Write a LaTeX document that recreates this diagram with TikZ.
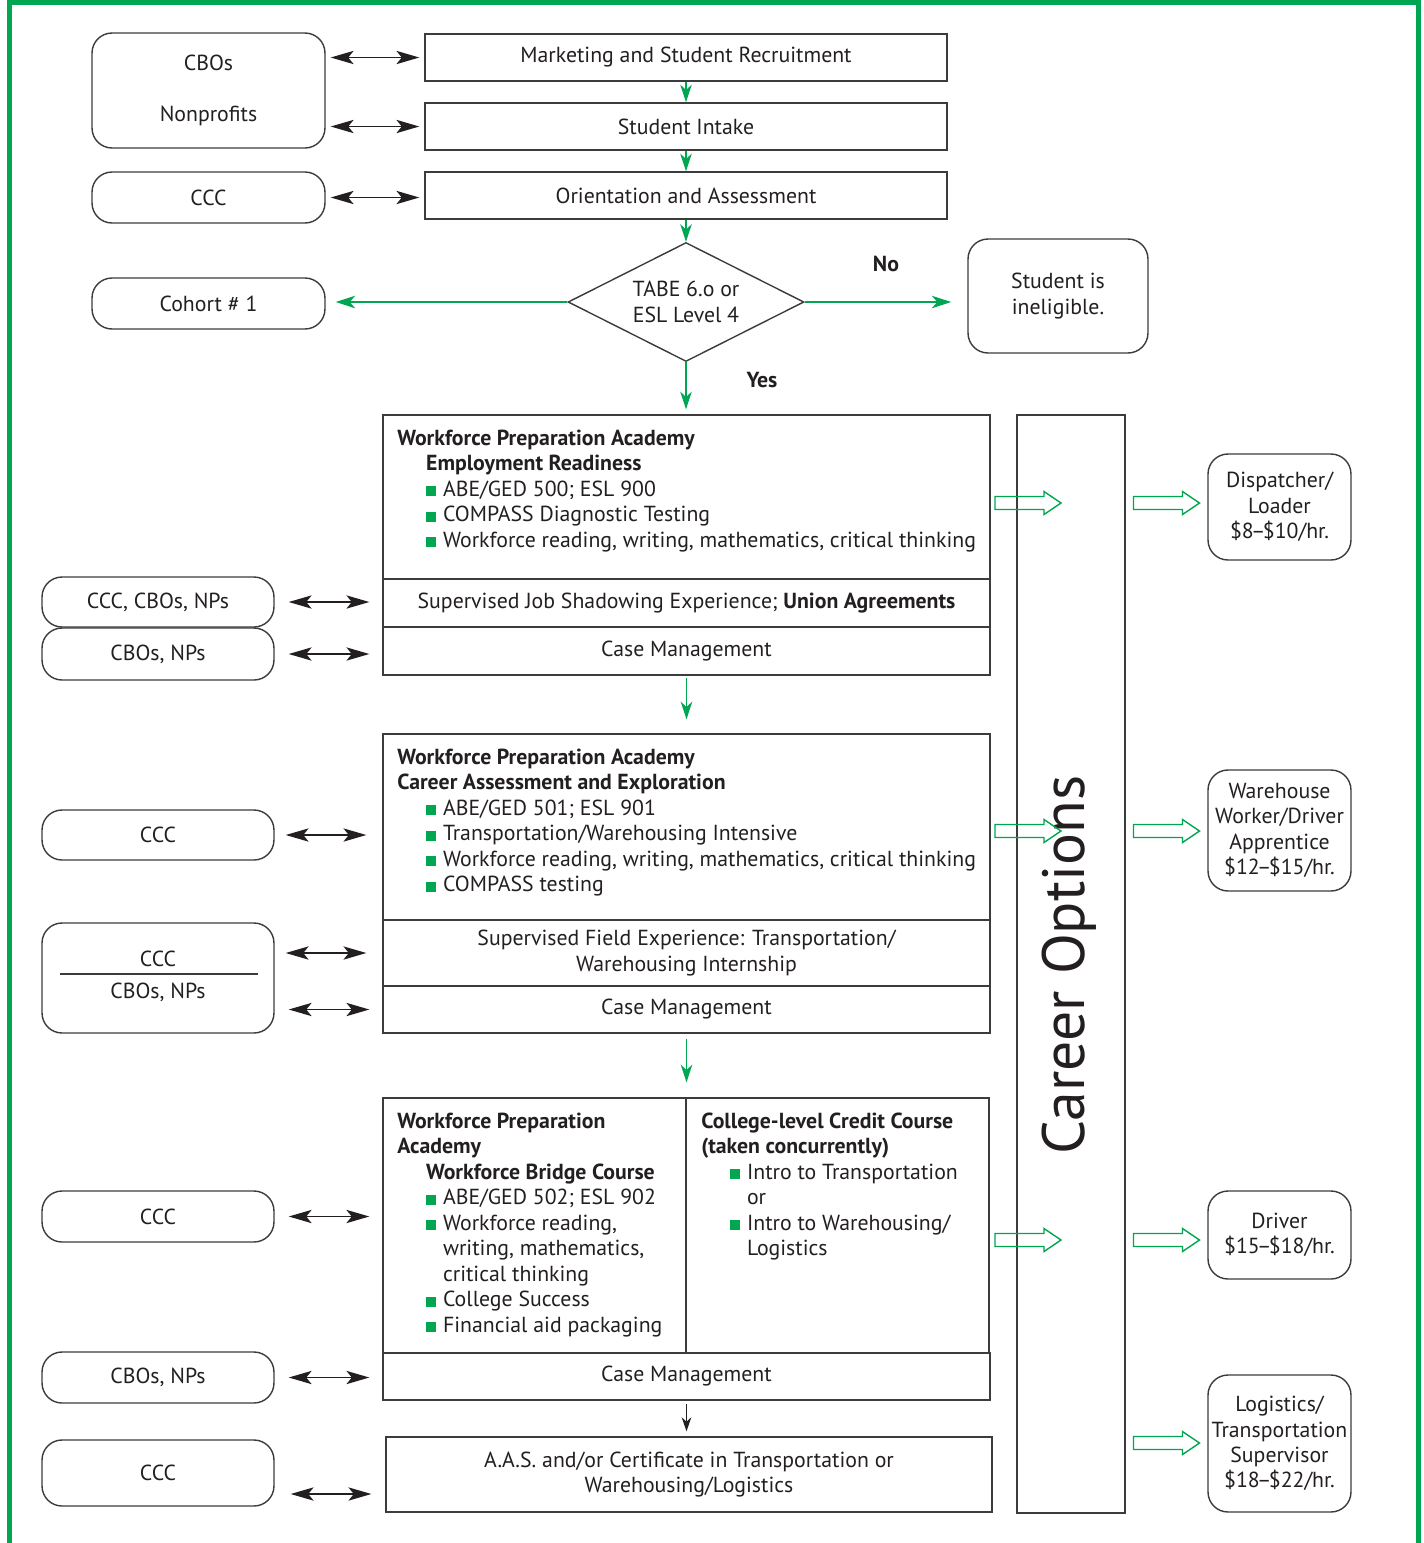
\documentclass[tikz,border=0pt]{standalone}
\usepackage{fontspec}
\setmainfont{PT Sans}
\usetikzlibrary{arrows.meta, shapes.geometric}
\definecolor{cogreen}{RGB}{0,166,81}
\definecolor{coline}{RGB}{60,60,60}
\definecolor{cotext}{RGB}{35,31,32}
\newcommand{\subind}{\hspace*{16.4pt}}
\newcommand{\hangind}{\hspace*{26pt}}
\newcommand{\sqbul}{\hspace*{16.4pt}\makebox[9.6pt][l]{\textcolor{cogreen}{\rule{5.6pt}{5.6pt}}}}
\newcommand{\nd}{\kern-1.5pt--\kern-1.5pt}
\tikzset{>=Stealth,
  every node/.append style={font=\fontsize{12.4}{14.5}\selectfont, text=cotext},
  sqbox/.style={draw=coline, line width=0.8pt, inner sep=0pt, align=center},
  rbox/.style={sqbox, rounded corners=0.4cm},
  lst/.style={anchor=north west, align=left, inner sep=0pt},
  dbl/.style={{Stealth[length=13pt,width=7.5pt,inset=3pt]}-{Stealth[length=13pt,width=7.5pt,inset=3pt]}, line width=1.1pt, draw=cotext},
  gline/.style={-{Stealth[length=11pt,width=7pt,inset=3pt]}, draw=cogreen, line width=1.6pt},
  gthin/.style={-{Stealth[length=10pt,width=6.5pt,inset=3pt]}, draw=cogreen, line width=1.1pt},
  pics/hollowarr/.style={code={
    \draw[cogreen, line width=0.8pt] (-33,-6.5) -- (16,-6.5) -- (16,-11.5) -- (33,0)
      -- (16,11.5) -- (16,6.5) -- (-33,6.5) -- cycle;}}
}

\begin{document}
\begin{tikzpicture}[x=0.02cm, y=-0.02cm]
\useasboundingbox (0,0) rectangle (1424,1543);
\draw[cogreen, line width=0.1cm] (9.5,2.5) rectangle (1418,1600);

% intake column
\node[sqbox, minimum width=10.44cm, minimum height=0.94cm] (mkt) at (686,57.5) {Marketing and Student Recruitment};
\node[sqbox, minimum width=10.44cm, minimum height=0.94cm] (intake) at (686,126.5) {Student Intake};
\node[sqbox, minimum width=10.44cm, minimum height=0.94cm] (orient) at (686,195.5) {Orientation and Assessment};
\node[diamond, draw=coline, line width=0.8pt, aspect=2, minimum width=4.72cm, minimum height=2.38cm, inner sep=0pt, align=center] (tabe) at (686,302) {TABE 6.o or\\ESL Level 4};
\node (no) at (886,264) {\textbf{No}};
\node (yes) at (762,380) {\textbf{Yes}};

\node[rbox, minimum width=4.66cm, minimum height=2.3cm] (cbo) at (208.5,90.5) {CBOs\\[14.5pt]Nonprofits};
\node[rbox, minimum width=4.66cm, minimum height=1.02cm] (ccctop) at (208.5,197.5) {CCC};
\node[rbox, minimum width=4.66cm, minimum height=1.02cm] (cohort) at (208.5,303.5) {Cohort \# 1};
\node[rbox, minimum width=3.6cm, minimum height=2.28cm] (inelig) at (1058,296) {Student is\\ineligible.};

% block 1
\node[sqbox, minimum width=12.14cm, minimum height=3.28cm] (wpa1) at (686.5,497) {};
\node[sqbox, minimum width=12.14cm, minimum height=0.96cm] (shadow) at (686.5,603) {Supervised Job Shadowing Experience; \textbf{Union Agreements}};
\node[sqbox, minimum width=12.14cm, minimum height=0.96cm] (case1) at (686.5,651) {Case Management};
\node[lst] (wpa1txt) at (397,427) {\strut\textbf{Workforce Preparation Academy}\\
  \subind\textbf{Employment Readiness}\\
  \sqbul ABE/GED 500; ESL 900\\
  \sqbul COMPASS Diagnostic Testing\\
  \sqbul Workforce reading, writing, mathematics, critical thinking};

% block 2
\node[sqbox, minimum width=12.14cm, minimum height=3.72cm] (wpa2) at (686.5,827) {};
\node[sqbox, minimum width=12.14cm, minimum height=1.32cm] (field) at (686.5,953) {Supervised Field Experience: Transportation/\\Warehousing Internship};
\node[sqbox, minimum width=12.14cm, minimum height=0.94cm] (case2) at (686.5,1009.5) {Case Management};
\node[lst] (wpa2txt) at (397,746) {\strut\textbf{Workforce Preparation Academy}\\
  \textbf{Career Assessment and Exploration}\\
  \sqbul ABE/GED 501; ESL 901\\
  \sqbul Transportation/Warehousing Intensive\\
  \sqbul Workforce reading, writing, mathematics, critical thinking\\
  \sqbul COMPASS testing};

% block 3
\node[sqbox, minimum width=6.06cm, minimum height=5.1cm] (bridge) at (534.5,1225.5) {};
\node[sqbox, minimum width=6.06cm, minimum height=5.1cm] (credit) at (837.5,1225.5) {};
\node[sqbox, minimum width=12.14cm, minimum height=0.94cm] (case3) at (686.5,1376.5) {Case Management};
\node[lst] (bridgetxt) at (397,1110) {\strut\textbf{Workforce Preparation}\\
  \textbf{Academy}\\
  \subind\textbf{Workforce Bridge Course}\\
  \sqbul ABE/GED 502; ESL 902\\
  \sqbul Workforce reading,\\
  \hangind writing, mathematics,\\
  \hangind critical thinking\\
  \sqbul College Success\\
  \sqbul Financial aid packaging};
\node[lst] (credittxt) at (701,1110) {\strut\textbf{College-level Credit Course}\\
  \textbf{(taken concurrently)}\\
  \sqbul Intro to Transportation\\
  \hangind or\\
  \sqbul Intro to Warehousing/\\
  \hangind Logistics};
\node[sqbox, minimum width=12.12cm, minimum height=1.5cm] (aas) at (689,1474.5) {A.A.S. and/or Certificate in Transportation or\\Warehousing/Logistics};

% partners
\node[rbox, minimum width=4.64cm, minimum height=1.0cm] (ls1) at (158,602) {CCC, CBOs, NPs};
\node[rbox, minimum width=4.64cm, minimum height=1.04cm] (ls2) at (158,654) {CBOs, NPs};
\node[rbox, minimum width=4.64cm, minimum height=1.0cm] (lf1) at (158,835) {CCC};
\node[rbox, minimum width=4.64cm, minimum height=2.2cm] (cccnp) at (158,978) {};
\node (cccnpa) at (158,959) {CCC};
\node (cccnpb) at (158,992) {CBOs, NPs};
\draw[coline, line width=0.7pt] (60,974) -- (258,974);
\node[rbox, minimum width=4.64cm, minimum height=1.02cm] (lb1) at (158,1216.5) {CCC};
\node[rbox, minimum width=4.64cm, minimum height=1.02cm] (lb2) at (158,1377.5) {CBOs, NPs};
\node[rbox, minimum width=4.64cm, minimum height=1.32cm] (la) at (158,1473) {CCC};

% career options
\node[sqbox, minimum width=2.16cm, minimum height=21.96cm] (career) at (1071,964) {};
\node[rotate=90, font=\fontsize{34}{38}\selectfont] (careertxt) at (1069,965) {Career Options};
\node[rbox, minimum width=2.86cm, minimum height=2.12cm] (job1) at (1279.5,507) {Dispatcher/\\Loader\\\$8\nd\$10/hr.};
\node[rbox, minimum width=2.86cm, minimum height=2.42cm] (job2) at (1279.5,830.5) {Warehouse\\Worker/Driver\\Apprentice\\\$12\nd\$15/hr.};
\node[rbox, minimum width=2.86cm, minimum height=1.76cm] (job3) at (1279.5,1235) {Driver\\\$15\nd\$18/hr.};
\node[rbox, minimum width=2.86cm, minimum height=2.74cm] (job4) at (1279.5,1443.5) {Logistics/\\Transportation\\Supervisor\\\$18\nd\$22/hr.};
\foreach \y in {503,831,1240} \pic at (1028,\y) {hollowarr};
\foreach \y in {503,831,1240,1443} \pic at (1166.5,\y) {hollowarr};

% flow
\draw[gthin] (mkt) -- (intake);
\draw[gthin] (intake) -- (orient);
\draw[gthin] (orient) -- (tabe);
\draw[gline, shorten >=0.2cm] (tabe.west) -- (tabe.west -| cohort.east);
\draw[gline, shorten >=0.32cm] (tabe.east) -- (tabe.east -| inelig.west);
\draw[gthin, shorten >=0.1cm] (tabe.south) -- (tabe.south |- wpa1.north);
\draw[gthin, shorten <=0.04cm, shorten >=0.28cm] (case1.south) -- (case1.south |- wpa2.north);
\draw[gthin, shorten <=0.1cm, shorten >=0.3cm] (case2.south) -- (case2.south |- bridge.north);
\draw[-{Stealth[length=8pt,width=5.5pt]}, line width=0.8pt, draw=cotext, shorten <=0.06cm, shorten >=0.1cm] (case3.south) -- (case3.south |- aas.north);

% partner links
\draw[dbl, shorten <=0.1cm, shorten >=0.1cm] (cbo.east |- mkt) -- (mkt.west);
\draw[dbl, shorten <=0.1cm, shorten >=0.1cm] (cbo.east |- intake) -- (intake.west);
\draw[dbl, shorten <=0.1cm, shorten >=0.1cm] (ccctop.east) -- (ccctop.east -| orient.west);
\draw[dbl, shorten <=0.28cm, shorten >=0.26cm] (ls1.east) -- (ls1.east -| shadow.west);
\draw[dbl, shorten <=0.28cm, shorten >=0.26cm] (ls2.east) -- (ls2.east -| case1.west);
\draw[dbl, shorten <=0.22cm, shorten >=0.32cm] (lf1.east) -- (lf1.east -| wpa2.west);
\draw[dbl, shorten <=0.22cm, shorten >=0.32cm] (cccnp.east |- field) -- (field.west);
\draw[dbl, shorten <=0.28cm, shorten >=0.26cm] (cccnp.east |- case2) -- (case2.west);
\draw[dbl, shorten <=0.28cm, shorten >=0.26cm] (lb1.east) -- (lb1.east -| bridge.west);
\draw[dbl, shorten <=0.28cm, shorten >=0.26cm] (lb2.east) -- (lb2.east -| case3.west);
\coordinate (laarr) at ([yshift=-0.42cm]la.east);
\draw[dbl, shorten <=0.32cm, shorten >=0.28cm] (laarr) -- (laarr -| aas.west);
\end{tikzpicture}
\end{document}
